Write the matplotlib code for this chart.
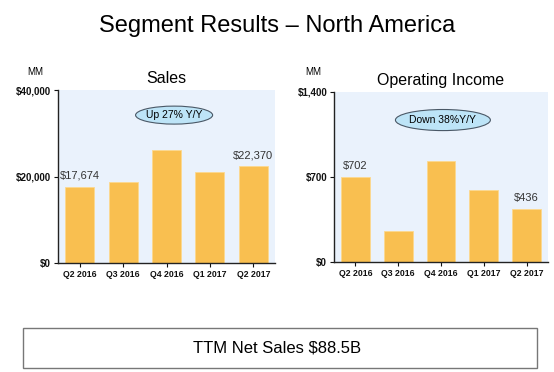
import matplotlib
matplotlib.use("Agg")
import matplotlib.pyplot as plt
from matplotlib.patches import Ellipse, Rectangle

plt.rcParams['font.family'] = ['Liberation Sans', 'DejaVu Sans']

quarters = ["Q2 2016", "Q3 2016", "Q4 2016", "Q1 2017", "Q2 2017"]
sales = [17674, 18843, 26240, 20997, 22370]
op_income = [702, 255, 828, 596, 436]

bar_color = "#F9BF50"
bg_color = "#EAF2FC"

fig = plt.figure(figsize=(5.54, 3.72), dpi=100)
fig.text(0.5, 0.93, "Segment Results \u2013 North America", ha="center", va="center", fontsize=17)


def panel(rect, values, ymax, yticks, ylabels, title, note, note_box, labels):
    ax = fig.add_axes(rect)
    ax.set_facecolor(bg_color)
    ax.bar(range(len(values)), values, width=0.67, color=bar_color, edgecolor="#FCD98F", linewidth=0.6, zorder=2)
    ax.set_xlim(-0.5, len(values) - 0.5)
    ax.set_ylim(0, ymax)
    ax.set_yticks(yticks)
    ax.set_yticklabels(ylabels, fontsize=7, fontweight="bold")
    ax.set_xticks(range(len(values)))
    ax.set_xticklabels(quarters, fontsize=6.3, fontweight="bold")
    for s in ["top", "right"]:
        ax.spines[s].set_visible(False)
    for s in ["left", "bottom"]:
        ax.spines[s].set_color("#222222")
        ax.spines[s].set_linewidth(1.0)
    ax.tick_params(axis="both", length=3, width=0.8, pad=2, colors="#111111")
    ax.set_title(title, fontsize=11.5, pad=5)
    cx, cy, w, h = note_box
    ax.add_patch(Ellipse((cx, cy), w, h, transform=ax.transAxes, facecolor="#BDE4F7",
                         edgecolor="#4A5866", linewidth=0.8, zorder=3))
    ax.text(cx, cy, note, transform=ax.transAxes, ha="center", va="center", fontsize=7.5, zorder=4)
    for i, txt in labels:
        ax.annotate(txt, (i, values[i]), xytext=(0, 8), textcoords="offset points",
                    ha="center", va="center", fontsize=8, color="#333333")
    return ax


panel([0.1047, 0.293, 0.3917, 0.465], sales, 40000, [0, 20000, 40000],
      ["$0", "$20,000", "$40,000"], "Sales", "Up 27% Y/Y",
      (0.535, 0.855, 0.355, 0.104), [(0, "$17,674"), (4, "$22,370")])
panel([0.603, 0.2957, 0.386, 0.457], op_income, 1400, [0, 700, 1400],
      ["$0", "$700", "$1,400"], "Operating Income", "Down 38%Y/Y",
      (0.509, 0.835, 0.444, 0.124), [(0, "$702"), (4, "$436")])

fig.text(35 / 554, 1 - 72 / 372, "MM", ha="center", va="center", fontsize=7)
fig.text(313 / 554, 1 - 72 / 372, "MM", ha="center", va="center", fontsize=7)

fig.patches.append(Rectangle((0.0415, 0.0108), 0.928, 0.1075, transform=fig.transFigure,
                             facecolor="white", edgecolor="#777777", linewidth=1.0))
fig.text(0.5, 1 - 348 / 372, "TTM Net Sales $88.5B", ha="center", va="center", fontsize=12)

fig.savefig("out.png", dpi=100)
